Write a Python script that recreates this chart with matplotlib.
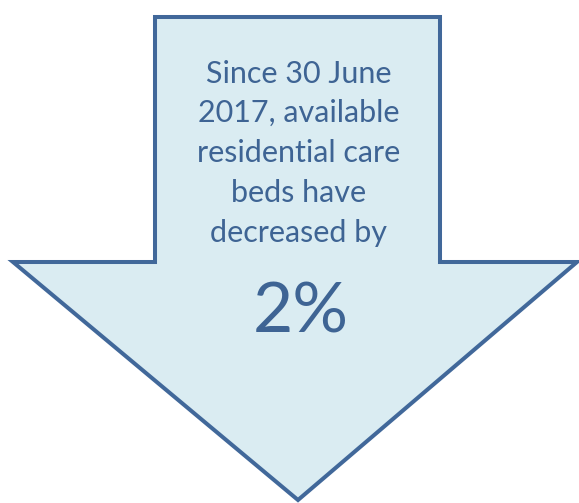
import matplotlib
matplotlib.use("Agg")
import matplotlib.pyplot as plt
from matplotlib.patches import Polygon

# arrow outline, in pixel space of the picture
arrow_x = [155, 440, 440, 577, 298, 13, 155]
arrow_y = [17, 17, 262, 262, 500, 262, 262]

lines = ["Since 30 June", "2017, available", "residential care",
         "beds have", "decreased by"]
line_y = [74, 113, 153, 193, 233]
big_label = "2%"

edge_col = "#41689a"
fill_col = "#daecf2"
text_col = "#3e6494"


def main():
    fig = plt.figure(figsize=(5.79, 5.03), dpi=100)
    ax = fig.add_axes([0, 0, 1, 1])
    ax.set_xlim(0, 579)
    ax.set_ylim(503, 0)
    ax.axis("off")

    pts = list(zip(arrow_x, arrow_y))
    ax.add_patch(Polygon(pts, closed=True, facecolor=fill_col,
                         edgecolor=edge_col, linewidth=2.9, joinstyle="miter"))

    for txt, y in zip(lines, line_y):
        ax.text(299, y, txt, ha="center", va="center", fontsize=22,
                color=text_col, family="Lato")
    ax.text(301, 313, big_label, ha="center", va="center", fontsize=50,
            color=text_col, family="Lato")

    fig.savefig("out.png", dpi=100)


if __name__ == '__main__':
    main()
